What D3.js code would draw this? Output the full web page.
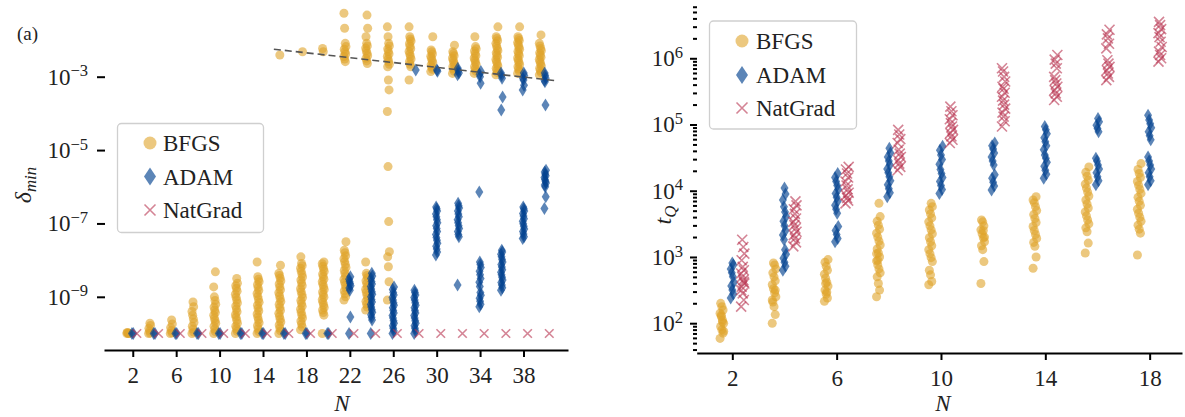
<!DOCTYPE html>
<html>
<head>
<meta charset="utf-8">
<script src="https://cdn.jsdelivr.net/npm/d3@7"></script>
<style>
  body { margin: 0; background: #fff; }
  svg { display: block; font-family: 'Liberation Serif', 'DejaVu Serif', serif; }
</style>
</head>
<body>
<svg></svg>
<script>
// ---- panel (a): log10(delta_min) of each run, grouped by N ----
const nLeft = [2, 4, 6, 8, 10, 12, 14, 16, 18, 20, 22, 24, 26, 28, 30, 32, 34, 36, 38, 40];
const bfgsLeft = [
    [-10, -10, -9.98, -9.97, -10],
    [-10, -9.99, -9.93, -9.86, -9.78, -9.72],
    [-10, -9.98, -9.92, -9.84, -9.74, -9.63],
    [-10, -9.96, -9.88, -9.8, -9.7, -9.6, -9.5, -9.4, -9.27, -9.14],
    [-10, -9.95, -9.88, -9.8, -9.72, -9.65, -9.58, -9.5, -9.43, -9.36, -9.28, -9.2, -9.1, -9.0, -8.73, -8.32],
    [-10, -9.94, -9.87, -9.8, -9.72, -9.64, -9.56, -9.49, -9.41, -9.33, -9.25, -9.17, -9.09, -9.01, -8.93, -8.85, -8.77, -8.7, -8.63, -8.5],
    [-10, -9.95, -9.87, -9.79, -9.71, -9.63, -9.55, -9.47, -9.39, -9.31, -9.23, -9.15, -9.07, -8.99, -8.91, -8.83, -8.75, -8.67, -8.59, -8.52, -8.45, -8.05],
    [-10, -9.93, -9.85, -9.77, -9.69, -9.61, -9.53, -9.45, -9.37, -9.29, -9.21, -9.13, -9.05, -8.97, -8.89, -8.81, -8.73, -8.65, -8.57, -8.49, -8.42, -8.36, -8.14, -2.41],
    [-9.9, -9.82, -9.74, -9.66, -9.58, -9.5, -9.42, -9.34, -9.26, -9.18, -9.1, -9.02, -8.94, -8.86, -8.78, -8.7, -8.62, -8.54, -8.46, -8.38, -8.3, -8.22, -8.15, -8.09, -7.91, -2.32],
    [-10, -9.5, -9.43, -9.36, -9.29, -9.22, -9.15, -9.08, -9.01, -8.94, -8.87, -8.8, -8.73, -8.66, -8.59, -8.52, -8.45, -8.38, -8.31, -8.24, -8.17, -8.1, -8.05, -2.32, -2.23],
    [-9.09, -9.0, -8.92, -8.84, -8.76, -8.68, -8.6, -8.52, -8.44, -8.36, -8.28, -8.2, -8.12, -8.04, -7.96, -7.88, -7.8, -7.73, -7.5, -2.59, -2.52, -2.45, -2.38, -2.32, -2.25, -2.18, -2.09, -1.68, -1.27],
    [-9.36, -9.28, -9.2, -9.12, -9.04, -8.96, -8.88, -8.8, -8.72, -8.64, -8.56, -8.48, -8.42, -8.36, -8.05, -2.64, -2.57, -2.5, -2.43, -2.36, -2.29, -2.22, -2.16, -2.09, -1.91, -1.68, -1.32],
    [-9.09, -8.59, -8.18, -7.91, -7.77, -6.95, -5.45, -3.95, -3.36, -3.09, -2.73, -2.66, -2.59, -2.52, -2.45, -2.38, -2.31, -2.24, -2.16, -2.09, -1.91, -1.64],
    [-3.09, -2.73, -2.66, -2.59, -2.52, -2.45, -2.38, -2.31, -2.24, -2.17, -2.1, -2.03, -1.97, -1.91, -1.64],
    [-2.86, -2.8, -2.74, -2.68, -2.62, -2.56, -2.5, -2.44, -2.38, -2.32, -2.27, -1.91],
    [-2.91, -2.85, -2.79, -2.73, -2.67, -2.61, -2.55, -2.49, -2.43, -2.37, -2.32, -2.14],
    [-2.91, -2.85, -2.79, -2.73, -2.67, -2.61, -2.55, -2.49, -2.43, -2.37, -2.3, -2.24, -2.18, -1.91],
    [-2.95, -2.89, -2.83, -2.77, -2.71, -2.65, -2.59, -2.53, -2.47, -2.41, -2.35, -2.29, -2.23, -2.16, -2.09, -2.02, -1.96, -1.91, -1.64],
    [-2.91, -2.85, -2.79, -2.73, -2.67, -2.61, -2.55, -2.49, -2.43, -2.37, -2.31, -2.25, -2.19, -2.13, -2.07, -2.01, -1.96, -1.91, -1.64],
    [-2.95, -2.89, -2.83, -2.77, -2.71, -2.65, -2.59, -2.53, -2.47, -2.41, -2.35, -2.29, -2.23, -2.16, -2.09, -1.86]
];
const adamLeft = [
    [-10, -10], [-10, -10], [-10, -10], [-10, -10], [-10, -10],
    [-10, -10], [-10, -10], [-10, -10], [-10, -10], [-10, -10],
    [-10, -9.55, -8.82, -8.76, -8.7, -8.64, -8.58, -8.52, -8.45],
    [-10, -9.63, -9.56, -9.49, -9.42, -9.35, -9.28, -9.21, -9.14, -9.07, -9.0, -8.93, -8.86, -8.79, -8.72, -8.65, -8.58, -8.5, -8.43, -8.36],
    [-10, -9.93, -9.86, -9.79, -9.72, -9.65, -9.58, -9.51, -9.44, -9.37, -9.3, -9.23, -9.16, -9.09, -9.02, -8.95, -8.88, -8.8, -8.73],
    [-10, -9.93, -9.86, -9.79, -9.72, -9.65, -9.58, -9.51, -9.44, -9.37, -9.3, -9.23, -9.16, -9.09, -9.02, -8.95, -8.88, -8.82, -2.82],
    [-7.86, -7.78, -7.7, -7.62, -7.54, -7.46, -7.38, -7.3, -7.22, -7.14, -7.06, -6.98, -6.9, -6.82, -6.74, -6.66, -6.6, -6.55, -2.85, -2.82],
    [-8.68, -7.36, -7.3, -7.22, -7.14, -7.06, -6.98, -6.9, -6.82, -6.74, -6.66, -6.58, -6.52, -6.45, -2.95, -2.9, -2.84, -2.77],
    [-9.27, -9.2, -9.12, -9.04, -8.96, -8.88, -8.72, -8.6, -8.5, -8.4, -8.3, -8.2, -8.12, -8.05, -6.14, -3.18, -3.0, -2.93, -2.86],
    [-8.82, -8.75, -8.68, -8.61, -8.54, -8.47, -8.4, -8.33, -8.26, -8.19, -8.12, -8.05, -7.98, -7.91, -7.84, -7.78, -7.73, -3.91, -3.55, -3.04, -2.97, -2.9],
    [-7.41, -7.36, -7.29, -7.22, -7.15, -7.08, -7.01, -6.94, -6.87, -6.8, -6.73, -6.66, -6.6, -6.55, -3.36, -3.23, -3.09, -3.04, -2.97, -2.9],
    [-6.59, -6.27, -6.0, -5.95, -5.9, -5.85, -5.8, -5.75, -5.7, -5.65, -5.6, -5.55, -3.77, -3.14, -3.1, -3.04, -2.97, -2.9]
];
const natgradLeft = [
    [-10], [-10], [-10], [-10], [-10], [-10], [-10], [-10], [-10], [-10],
    [-10], [-10], [-10], [-10], [-10], [-10], [-10], [-10], [-10], [-10]
];
// dashed guide line (N, log10 delta)
const fitN = [15, 41];
const fitLogDelta = [-2.25, -3.11];
const leftTicksX = [2, 6, 10, 14, 18, 22, 26, 30, 34, 38];
const leftTicksY = [1e-3, 1e-5, 1e-7, 1e-9];

// ---- panel (b): log10(t_Q) of each run, grouped by N ----
const nRight = [2, 4, 6, 8, 10, 12, 14, 16, 18];
const bfgsRight = [
    [1.77, 1.85, 1.9, 1.95, 2.0, 2.05, 2.1, 2.15, 2.2, 2.25, 2.3, 1.88, 2.02, 2.12],
    [2.0, 2.13, 2.25, 2.32, 2.4, 2.46, 2.52, 2.58, 2.64, 2.7, 2.76, 2.82, 2.88, 2.91, 2.35, 2.5],
    [2.33, 2.38, 2.44, 2.5, 2.56, 2.62, 2.68, 2.74, 2.8, 2.86, 2.92, 2.96, 2.47, 2.6],
    [2.4, 2.5, 2.6, 2.7, 2.76, 2.82, 2.88, 2.94, 3.0, 3.06, 3.12, 3.18, 3.24, 3.3, 3.36, 3.42, 3.48, 3.54, 3.61, 3.81, 2.95, 3.05],
    [2.58, 2.63, 2.73, 2.8, 2.93, 2.99, 3.05, 3.11, 3.17, 3.23, 3.29, 3.35, 3.41, 3.47, 3.53, 3.59, 3.65, 3.71, 3.76, 3.81],
    [2.6, 2.93, 3.11, 3.17, 3.23, 3.29, 3.35, 3.41, 3.47, 3.53, 3.56, 3.3, 3.4],
    [2.83, 3.0, 3.16, 3.22, 3.28, 3.34, 3.4, 3.46, 3.52, 3.58, 3.64, 3.7, 3.76, 3.82, 3.86, 3.91],
    [3.06, 3.21, 3.38, 3.44, 3.5, 3.56, 3.62, 3.68, 3.74, 3.8, 3.86, 3.92, 3.98, 4.04, 4.1, 4.16, 4.22, 4.28, 4.36],
    [3.03, 3.36, 3.42, 3.48, 3.54, 3.6, 3.66, 3.72, 3.78, 3.84, 3.9, 3.96, 4.02, 4.08, 4.14, 4.2, 4.26, 4.32, 4.41]
];
const adamRight = [
    [2.38, 2.44, 2.5, 2.56, 2.62, 2.7, 2.76, 2.82, 2.88, 2.91],
    [2.8, 2.86, 2.92, 2.98, 3.04, 3.11, 3.26, 3.33, 3.4, 3.47, 3.54, 3.61, 3.68, 3.76, 3.86, 3.95, 4.04],
    [3.23, 3.28, 3.34, 3.4, 3.46, 3.66, 3.72, 3.78, 3.84, 3.9, 3.96, 4.02, 4.08, 4.14, 4.2, 4.26],
    [3.91, 3.97, 4.03, 4.09, 4.15, 4.21, 4.27, 4.33, 4.39, 4.45, 4.51, 4.57, 4.64],
    [3.96, 4.02, 4.08, 4.14, 4.2, 4.26, 4.32, 4.4, 4.47, 4.54, 4.61, 4.67],
    [4.01, 4.07, 4.13, 4.19, 4.24, 4.39, 4.45, 4.51, 4.57, 4.63, 4.68, 4.72],
    [4.19, 4.25, 4.31, 4.37, 4.43, 4.49, 4.54, 4.62, 4.68, 4.74, 4.8, 4.86, 4.92, 4.97],
    [4.09, 4.15, 4.21, 4.27, 4.33, 4.39, 4.45, 4.49, 4.89, 4.94, 4.99, 5.04, 5.09],
    [4.09, 4.15, 4.21, 4.27, 4.33, 4.39, 4.45, 4.51, 4.77, 4.83, 4.89, 4.95, 5.01, 5.07, 5.14]
];
const natgradRight = [
    [2.25, 2.35, 2.45, 2.55, 2.6, 2.65, 2.7, 2.75, 2.8, 2.85, 2.95, 3.05, 3.15, 3.26, 2.5, 2.62],
    [3.16, 3.22, 3.28, 3.33, 3.38, 3.43, 3.48, 3.53, 3.58, 3.65, 3.72, 3.78, 3.84],
    [3.81, 3.85, 3.89, 3.93, 3.97, 4.02, 4.08, 4.14, 4.2, 4.26, 4.32, 4.36],
    [4.31, 4.36, 4.41, 4.46, 4.51, 4.56, 4.62, 4.72, 4.78, 4.85, 4.92],
    [4.72, 4.77, 4.82, 4.87, 4.92, 4.97, 5.02, 5.08, 5.14, 5.2, 5.27],
    [4.97, 5.05, 5.12, 5.18, 5.24, 5.3, 5.36, 5.42, 5.48, 5.54, 5.57, 5.65, 5.72, 5.8, 5.85],
    [5.37, 5.42, 5.47, 5.52, 5.57, 5.62, 5.67, 5.72, 5.85, 5.92, 5.98, 6.05],
    [5.67, 5.72, 5.77, 5.82, 5.87, 5.92, 5.97, 6.15, 6.22, 6.3, 6.36, 6.43],
    [5.95, 6.0, 6.05, 6.1, 6.17, 6.25, 6.32, 6.38, 6.44, 6.5, 6.55]
];
const rightTicksX = [2, 6, 10, 14, 18];
const rightTicksY = [1e2, 1e3, 1e4, 1e5, 1e6];

const methods = ['BFGS', 'ADAM', 'NatGrad'];

// ---- styles ----
const colors = {BFGS: '#dfa42a', ADAM: '#044490', NatGrad: '#b8324f'};
const alphas = {BFGS: 0.6, ADAM: 0.65, NatGrad: 0.6};

const svg = d3.select('svg').attr('width', 1185).attr('height', 417);

// small marker shapes like matplotlib's 'o', 'd', 'x'
function markerPath(method, s) {
    if (method === 'BFGS') return d3.symbol(d3.symbolCircle, Math.PI * s.r * s.r)();
    if (method === 'ADAM') return `M0,${-s.h}L${s.w},0L0,${s.h}L${-s.w},0Z`;
    return `M${-s.x},${-s.x}L${s.x},${s.x}M${-s.x},${s.x}L${s.x},${-s.x}`;
}

function styleMarker(sel, method) {
    if (method === 'NatGrad') {
        sel.attr('fill', 'none')
            .attr('stroke', colors[method])
            .attr('stroke-opacity', alphas[method])
            .attr('stroke-width', 1.6);
    } else {
        sel.attr('fill', colors[method])
            .attr('fill-opacity', alphas[method]);
    }
}

// fixed small spread so stacked points do not sit exactly on top of each other
function spread(i) {
    return ((i * 5) % 7 - 3) / 3;
}

function drawStrip(g, x, y, nList, groups, method, dodge, jit, size) {
    let pts = [];
    nList.forEach((n, gi) => groups[gi].forEach((v, i) => pts.push({n: n, v: v, i: i})));
    g.append('g').classed(method, true)
        .selectAll('path')
        .data(pts)
        .join('path')
        .attr('d', markerPath(method, size))
        .attr('transform', d => 'translate(' + (x(d.n + dodge) + spread(d.i) * jit) + ',' + y(Math.pow(10, d.v)) + ')')
        .call(styleMarker, method);
}

// "10" with a raised exponent
function powLabels(axisG) {
    axisG.selectAll('.tick text').each(function (d) {
        let e = Math.round(Math.log10(d));
        let t = d3.select(this).text(null);
        t.append('tspan').text('10');
        t.append('tspan')
            .attr('dy', '-0.5em')
            .attr('font-size', '0.72em')
            .text(e < 0 ? '\u2212' + (-e) : e);
    });
}

function styleAxis(axisG) {
    axisG.attr('font-family', null).attr('font-size', 23);
    axisG.selectAll('.tick text').attr('fill', '#222');
    axisG.selectAll('.tick line').attr('stroke', '#000').attr('stroke-width', 2);
    axisG.select('.domain').attr('stroke', '#000').attr('stroke-width', 2);
}

function drawLegend(g, box, rowY, markerX, textX, sizes) {
    g.append('rect')
        .attr('x', box[0]).attr('y', box[1])
        .attr('width', box[2]).attr('height', box[3])
        .attr('rx', 4)
        .attr('fill', '#fff').attr('fill-opacity', 0.85)
        .attr('stroke', '#cfcfcf').attr('stroke-width', 1.3);
    methods.forEach((m, i) => {
        g.append('path')
            .attr('d', markerPath(m, sizes))
            .attr('transform', 'translate(' + markerX + ',' + rowY[i] + ')')
            .call(styleMarker, m);
        g.append('text')
            .attr('x', textX).attr('y', rowY[i])
            .attr('dy', '0.35em')
            .attr('font-size', 23)
            .attr('fill', '#222')
            .text(m);
    });
}

// ================= panel (a) =================
const xL = d3.scaleLinear().domain([-0.65, 42.1]).range([104, 568]);
const yL = d3.scaleLog().domain([Math.pow(10, -10.45), Math.pow(10, -1.1)]).range([350, 7]);
const leftG = svg.append('g').classed('left', true);
const smallMarks = {r: 4.5, w: 4, h: 6.5, x: 4.3};

drawStrip(leftG, xL, yL, nLeft, bfgsLeft, 'BFGS', -0.45, 1.0, smallMarks);
drawStrip(leftG, xL, yL, nLeft, adamLeft, 'ADAM', 0, 0.8, smallMarks);
drawStrip(leftG, xL, yL, nLeft, natgradLeft, 'NatGrad', 0.45, 0.8, smallMarks);

leftG.append('line')
    .attr('x1', xL(fitN[0])).attr('y1', yL(Math.pow(10, fitLogDelta[0])))
    .attr('x2', xL(fitN[1])).attr('y2', yL(Math.pow(10, fitLogDelta[1])))
    .attr('stroke', '#555').attr('stroke-width', 1.6)
    .attr('stroke-dasharray', '7,4');

leftG.append('g')
    .attr('transform', 'translate(0,350)')
    .call(d3.axisBottom(xL).tickValues(leftTicksX).tickSize(7).tickPadding(10).tickSizeOuter(0))
    .call(styleAxis);

leftG.append('g')
    .attr('transform', 'translate(105,0)')
    .call(d3.axisLeft(yL).tickValues(leftTicksY).tickSize(8).tickPadding(9))
    .call(styleAxis)
    .call(powLabels)
    .call(g => g.select('.domain').remove());

drawLegend(leftG, [117.5, 123.5, 146, 109], [143, 176.5, 210], 150, 163, {r: 6.5, w: 6, h: 9, x: 5.5});

leftG.append('text')
    .attr('x', 17).attr('y', 40)
    .attr('font-size', 19).attr('fill', '#222')
    .text('(a)');

leftG.append('text')
    .attr('x', 342).attr('y', 411)
    .attr('text-anchor', 'middle')
    .attr('font-size', 23).attr('font-style', 'italic').attr('fill', '#222')
    .text('N');

let dLabel = leftG.append('text')
    .attr('transform', 'translate(31,185) rotate(-90)')
    .attr('text-anchor', 'middle')
    .attr('font-size', 24).attr('font-style', 'italic').attr('fill', '#222');
dLabel.append('tspan').text('\u03b4');
dLabel.append('tspan').attr('dy', '0.3em').attr('font-size', '0.7em').text('min');

// ================= panel (b) =================
const xR = d3.scaleLinear().domain([0.635, 19.24]).range([696.7, 1182]);
const yR = d3.scaleLog().domain([Math.pow(10, 1.55), Math.pow(10, 6.8)]).range([353, 5.3]);
const rightG = svg.append('g').classed('right', true);
const rightMarks = {r: 4.5, w: 4, h: 6.5, x: 5};

drawStrip(rightG, xR, yR, nRight, bfgsRight, 'BFGS', -0.4, 1.8, rightMarks);
drawStrip(rightG, xR, yR, nRight, adamRight, 'ADAM', 0, 1.6, rightMarks);
drawStrip(rightG, xR, yR, nRight, natgradRight, 'NatGrad', 0.4, 1.6, rightMarks);

rightG.append('g')
    .attr('transform', 'translate(0,353)')
    .call(d3.axisBottom(xR).tickValues(rightTicksX).tickSize(7).tickPadding(10).tickSizeOuter(0))
    .call(styleAxis);

let minorTicks = [];
for (let k = 1; k <= 6; k++) {
    for (let m = 2; m <= 9; m++) {
        let v = m * Math.pow(10, k);
        if (v >= yR.domain()[0] && v <= yR.domain()[1]) minorTicks.push(v);
    }
}
rightG.append('g')
    .attr('transform', 'translate(697,0)')
    .call(d3.axisLeft(yR).tickValues(minorTicks).tickSize(4).tickFormat(''))
    .call(styleAxis)
    .call(g => g.select('.domain').remove());

rightG.append('g')
    .attr('transform', 'translate(697,0)')
    .call(d3.axisLeft(yR).tickValues(rightTicksY).tickSize(7).tickPadding(7))
    .call(styleAxis)
    .call(powLabels)
    .call(g => g.select('.domain').remove());

drawLegend(rightG, [709.5, 21, 147, 108], [41, 75, 108], 742, 756, {r: 6.5, w: 6, h: 9, x: 5.5});

rightG.append('text')
    .attr('x', 943).attr('y', 411)
    .attr('text-anchor', 'middle')
    .attr('font-size', 23).attr('font-style', 'italic').attr('fill', '#222')
    .text('N');

let tLabel = rightG.append('text')
    .attr('transform', 'translate(671,215) rotate(-90)')
    .attr('text-anchor', 'middle')
    .attr('font-size', 24).attr('font-style', 'italic').attr('fill', '#222');
tLabel.append('tspan').text('t');
tLabel.append('tspan').attr('dy', '0.3em').attr('font-size', '0.7em').text('Q');
</script>
</body>
</html>
